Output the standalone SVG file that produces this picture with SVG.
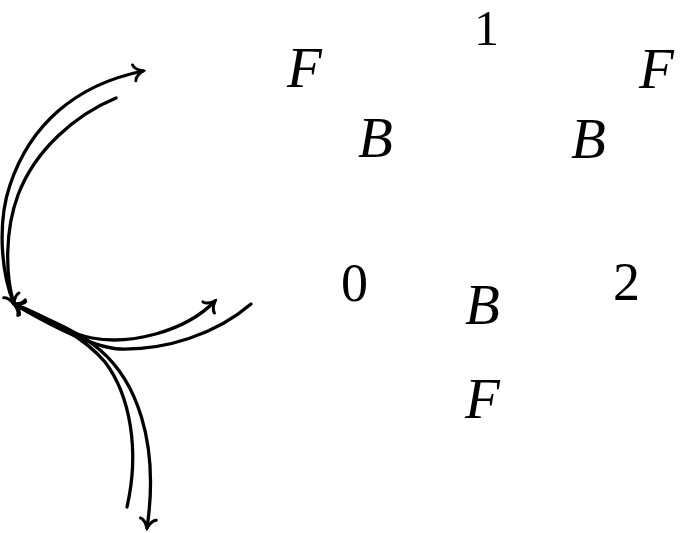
<svg xmlns="http://www.w3.org/2000/svg" width="685" height="533" viewBox="0 0 685 533">
<defs>
<marker id="to" markerUnits="userSpaceOnUse" viewBox="-12 -10 14 20" refX="0" refY="0" markerWidth="14" markerHeight="20" orient="auto" overflow="visible">
<path d="M-9,-8 C-8,-3 -2,-1 0,0 C-2,1 -8,3 -9,8" fill="none" stroke="#000" stroke-width="3" stroke-linecap="round"/>
</marker>
<style>
.e{fill:none;stroke:#000;stroke-width:3.3;stroke-linecap:round;marker-end:url(#to)}
.v{font-family:"Liberation Serif","Times New Roman",serif;font-style:italic;font-size:57px;fill:#000}
.d{font-family:"Liberation Serif","Times New Roman",serif;font-size:54px;fill:#000}
</style>
</defs>
<rect width="685" height="533" fill="#fff"/>
<g id="connectors">
<path class="e" d="M14,304 C0,270 -2,220 10,185 C30,125 75,85 143,71"/>
<path class="e" d="M116,98 C75,115 35,150 18,195 C5,230 5,275 14,304"/>
<path class="e" d="M14,304 C40,318 65,333 92,338 C130,345 185,332 215,301"/>
<path class="e" d="M251,304 C215,335 165,350 120,349 C95,348 50,325 14,304"/>
<path class="e" d="M14,304 C45,318 80,332 100,350 C135,380 160,440 147,528"/>
<path class="e" d="M127,507 C140,450 130,395 105,362 C85,338 45,316 14,304"/>
</g>
<g id="n-F1"><text class="v" x="287" y="87">F</text></g>
<g id="n-1"><text class="d" x="474" y="45" style="font-size:50px">1</text></g>
<g id="n-F2"><text class="v" x="639" y="88">F</text></g>
<g id="n-B1"><text class="v" x="358" y="157">B</text></g>
<g id="n-B2"><text class="v" x="571" y="158">B</text></g>
<g id="n-0"><text class="d" x="341" y="301">0</text></g>
<g id="n-2"><text class="d" x="613" y="300">2</text></g>
<g id="n-B3"><text class="v" x="465" y="324">B</text></g>
<g id="n-F3"><text class="v" x="465" y="418">F</text></g>
</svg>
